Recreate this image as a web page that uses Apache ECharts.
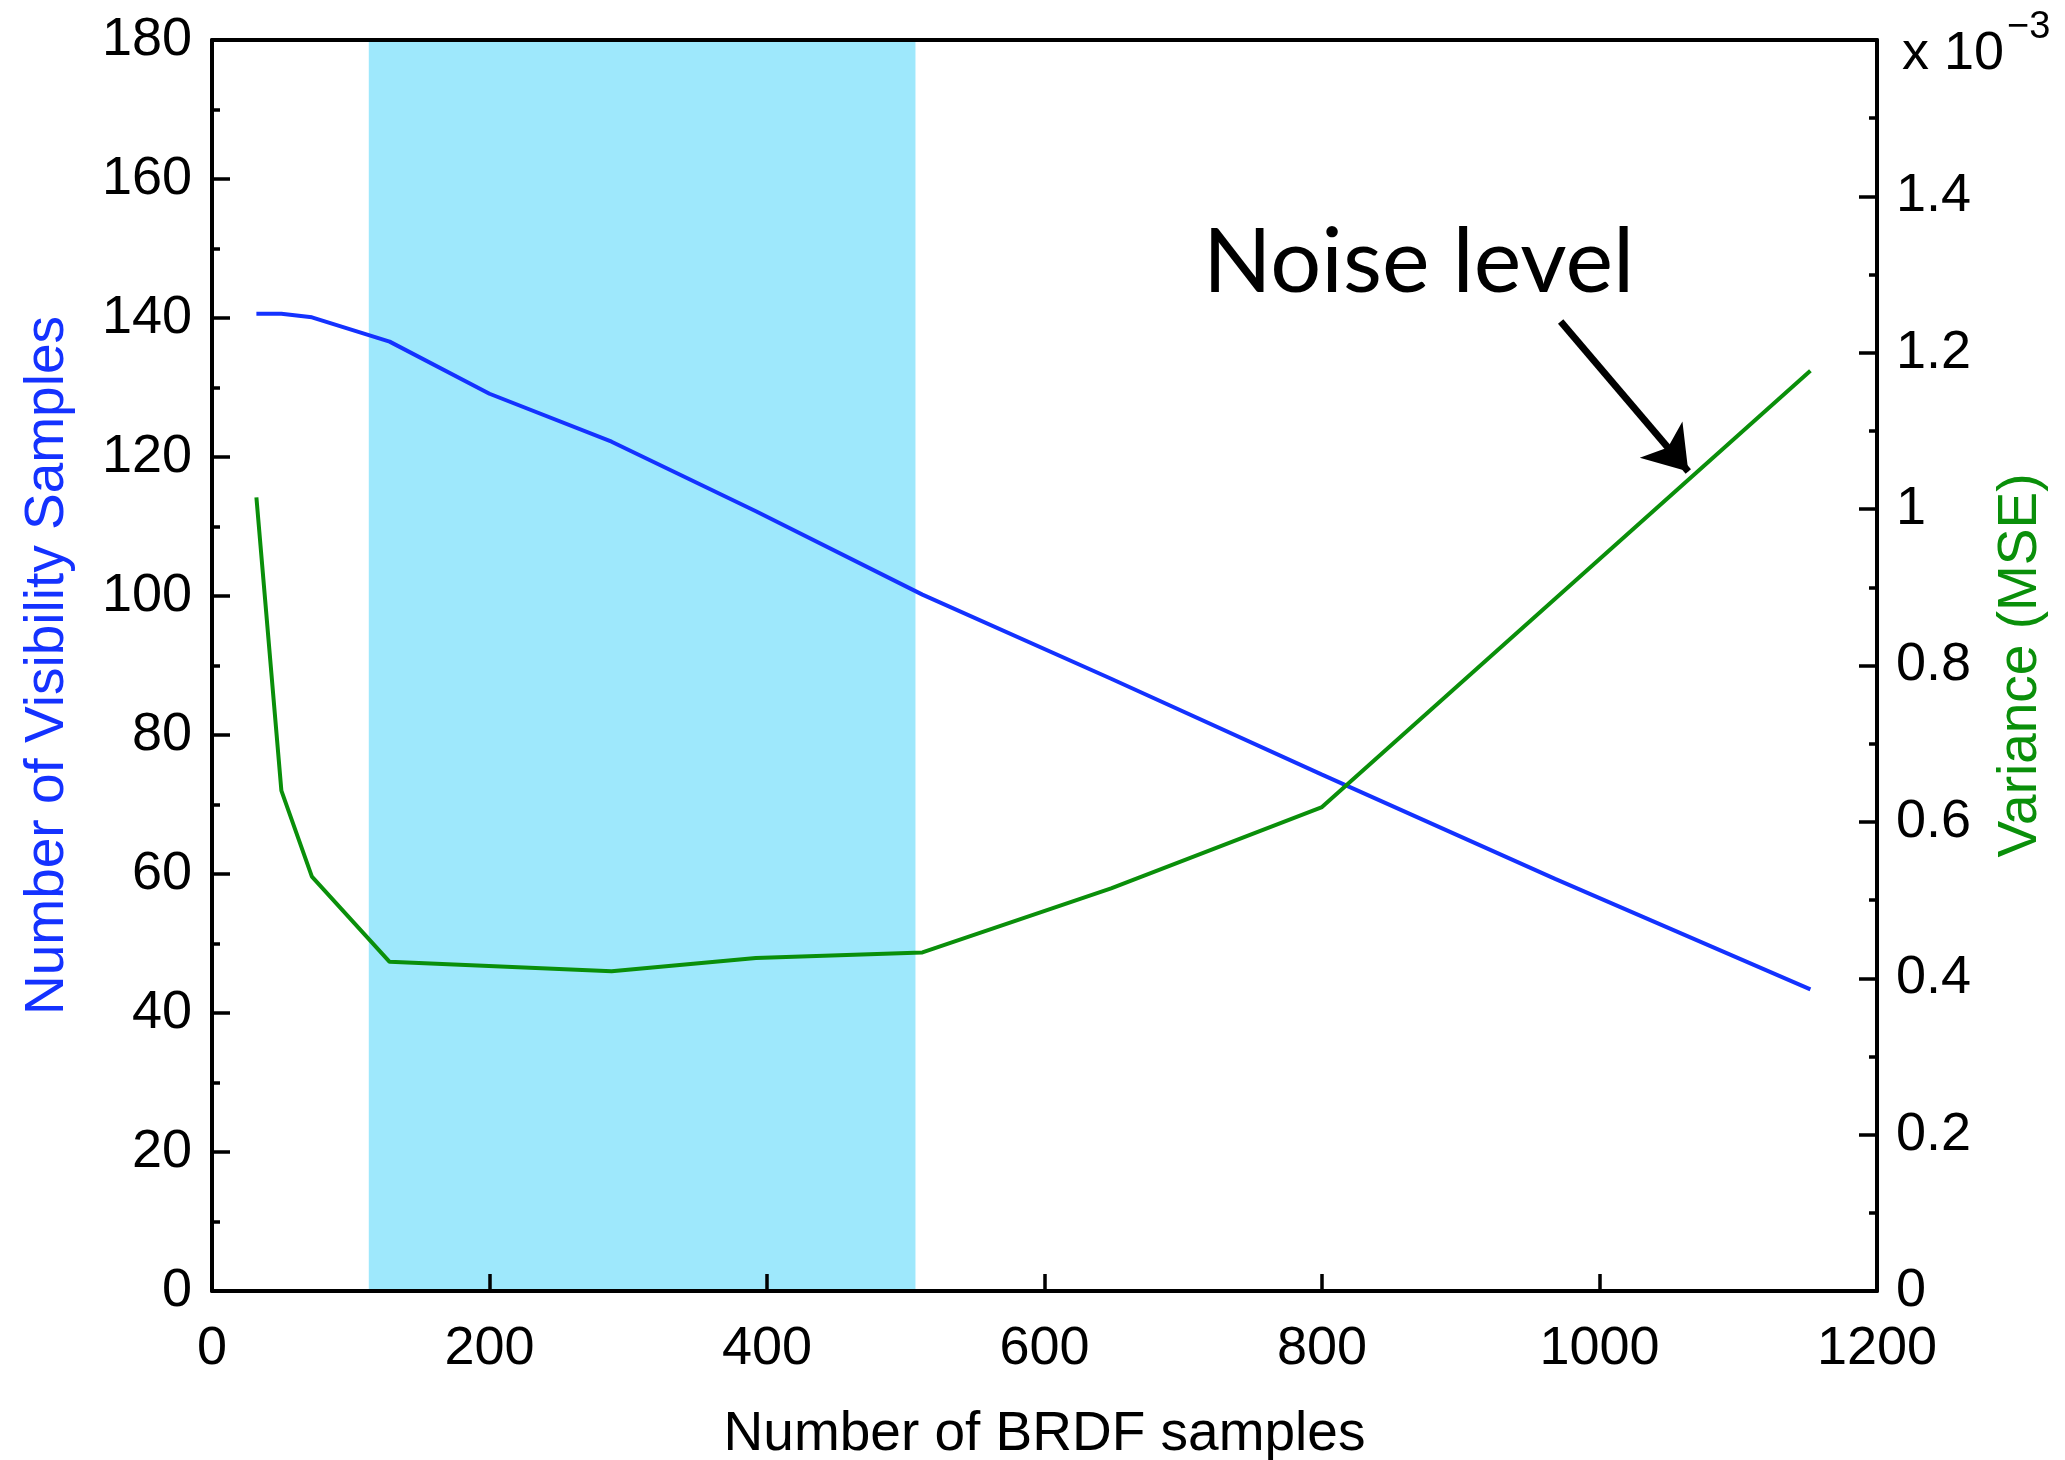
<!DOCTYPE html>
<html>
<head>
<meta charset="utf-8">
<script src="https://cdn.jsdelivr.net/npm/echarts@6/dist/echarts.min.js"></script>
<style>
  html, body { margin: 0; padding: 0; background: #fff; }
  #chart { width: 2065px; height: 1460px; }
</style>
</head>
<body>
<div id="chart"></div>
<script>
// axis ticks
const xTicks = [0, 200, 400, 600, 800, 1000, 1200];
const leftTicks = [0, 20, 40, 60, 80, 100, 120, 140, 160, 180];
const rightTickLabels = ['0', '0.2', '0.4', '0.6', '0.8', '1', '1.2', '1.4', ''];
const rightStep = 0.2;

// blue: visibility samples
const visX = [32, 50, 72, 128, 200, 288, 392, 512, 648, 800, 968, 1152];
const visY = [140.6, 140.6, 140.1, 136.6, 129.1, 122.2, 112.2, 100.2, 88.1, 74.3, 59.3, 43.4];
// green: variance (x 10^-3)
const mseX = [32, 50, 72, 128, 288, 392, 512, 648, 800, 1152];
const mseY = [1.015, 0.640, 0.530, 0.421, 0.409, 0.426, 0.433, 0.515, 0.619, 1.177];

// shaded range of BRDF samples
const band = [113, 507];
// arrow pointing to the noise level (data coords, left axis)
const arrowFrom = [972, 139.5];
const arrowTo = [1064, 117.9];

const BLUE = '#1432ff';
const GREEN = '#0a8f0a';
const FONT = 'Liberation Sans';

const chart = echarts.init(document.getElementById('chart'));

const tickStyle = { color: '#000', width: 3.5 };

chart.setOption({
    animation: false,
    backgroundColor: '#fff',
    grid: {
        left: 212, right: 188, top: 40, bottom: 169,
        containLabel: false,
        outerBoundsMode: 'none'
    },
    xAxis: [{
        type: 'value',
        min: xTicks[0],
        max: xTicks[xTicks.length - 1],
        interval: xTicks[1] - xTicks[0],
        z: 5,
        name: 'Number of BRDF samples',
        nameLocation: 'middle',
        nameGap: 116,
        nameTextStyle: { fontFamily: FONT, fontSize: 55, color: '#000' },
        axisLine: { show: true, onZero: false, lineStyle: { color: '#000', width: 4 } },
        axisTick: { show: true, inside: true, length: 17, lineStyle: tickStyle },
        axisLabel: {
            fontFamily: FONT, fontSize: 54, color: '#000', margin: 31,
            formatter: function (v) { return String(v); }
        },
        splitLine: { show: false }
    }, {
        type: 'value',
        position: 'top',
        min: xTicks[0],
        max: xTicks[xTicks.length - 1],
        z: 5,
        axisLine: { show: true, onZero: false, lineStyle: { color: '#000', width: 4 } },
        axisTick: { show: false },
        axisLabel: { show: false },
        splitLine: { show: false }
    }],
    yAxis: [{
        type: 'value',
        position: 'left',
        min: leftTicks[0],
        max: leftTicks[leftTicks.length - 1],
        interval: leftTicks[1] - leftTicks[0],
        z: 5,
        name: 'Number of Visibility Samples',
        nameLocation: 'middle',
        nameRotate: 90,
        nameGap: 137,
        nameTextStyle: { fontFamily: FONT, fontSize: 55, color: BLUE },
        axisLine: { show: true, onZero: false, lineStyle: { color: '#000', width: 4 } },
        axisTick: { show: true, inside: true, length: 18, lineStyle: tickStyle },
        minorTick: { show: true, splitNumber: 2, length: 8, lineStyle: tickStyle },
        axisLabel: { fontFamily: FONT, fontSize: 54, color: '#000', margin: 20 },
        splitLine: { show: false }
    }, {
        type: 'value',
        position: 'right',
        min: 0,
        max: rightStep * (rightTickLabels.length - 1),
        interval: rightStep,
        z: 5,
        name: 'Variance (MSE)',
        nameLocation: 'middle',
        nameRotate: 90,
        nameGap: 116,
        nameTextStyle: { fontFamily: FONT, fontSize: 55, color: GREEN },
        axisLine: { show: true, onZero: false, lineStyle: { color: '#000', width: 4 } },
        axisTick: { show: true, inside: true, length: 18, lineStyle: tickStyle },
        minorTick: { show: true, splitNumber: 2, length: 8, lineStyle: tickStyle },
        axisLabel: {
            fontFamily: FONT, fontSize: 54, color: '#000', margin: 19,
            formatter: function (v) {
                return rightTickLabels[Math.round(v / rightStep)];
            }
        },
        splitLine: { show: false }
    }],
    graphic: [{
        type: 'text',
        x: 1203, y: 218,
        style: { text: 'Noise level', fontFamily: 'Lato', fontSize: 90, fill: '#000', verticalAlign: 'top' }
    }, {
        type: 'text',
        x: 1902, y: 27,
        style: { text: 'x 10', fontFamily: FONT, fontSize: 54, fill: '#000', verticalAlign: 'top' }
    }, {
        type: 'text',
        x: 2007, y: 9,
        style: { text: '\u22123', fontFamily: FONT, fontSize: 38, fill: '#000', verticalAlign: 'top' }
    }],
    series: [{
        // shaded band
        type: 'line',
        data: [],
        z: 1,
        silent: true,
        markArea: {
            silent: true,
            itemStyle: { color: '#9ee8fc', opacity: 1 },
            data: [[{ xAxis: band[0] }, { xAxis: band[1] }]]
        }
    }, {
        name: 'Visibility',
        type: 'line',
        yAxisIndex: 0,
        z: 3,
        showSymbol: false,
        lineStyle: { color: BLUE, width: 4 },
        itemStyle: { color: BLUE },
        data: visX.map((x, i) => [x, visY[i]]),
        markLine: {
            silent: true,
            symbol: ['none', 'arrow'],
            symbolSize: 42,
            label: { show: false },
            lineStyle: { color: '#000', width: 7, type: 'solid' },
            data: [[{ coord: arrowFrom }, { coord: arrowTo }]]
        }
    }, {
        name: 'Variance',
        type: 'line',
        yAxisIndex: 1,
        z: 3,
        showSymbol: false,
        lineStyle: { color: GREEN, width: 4 },
        itemStyle: { color: GREEN },
        data: mseX.map((x, i) => [x, mseY[i]])
    }]
});
</script>
</body>
</html>
